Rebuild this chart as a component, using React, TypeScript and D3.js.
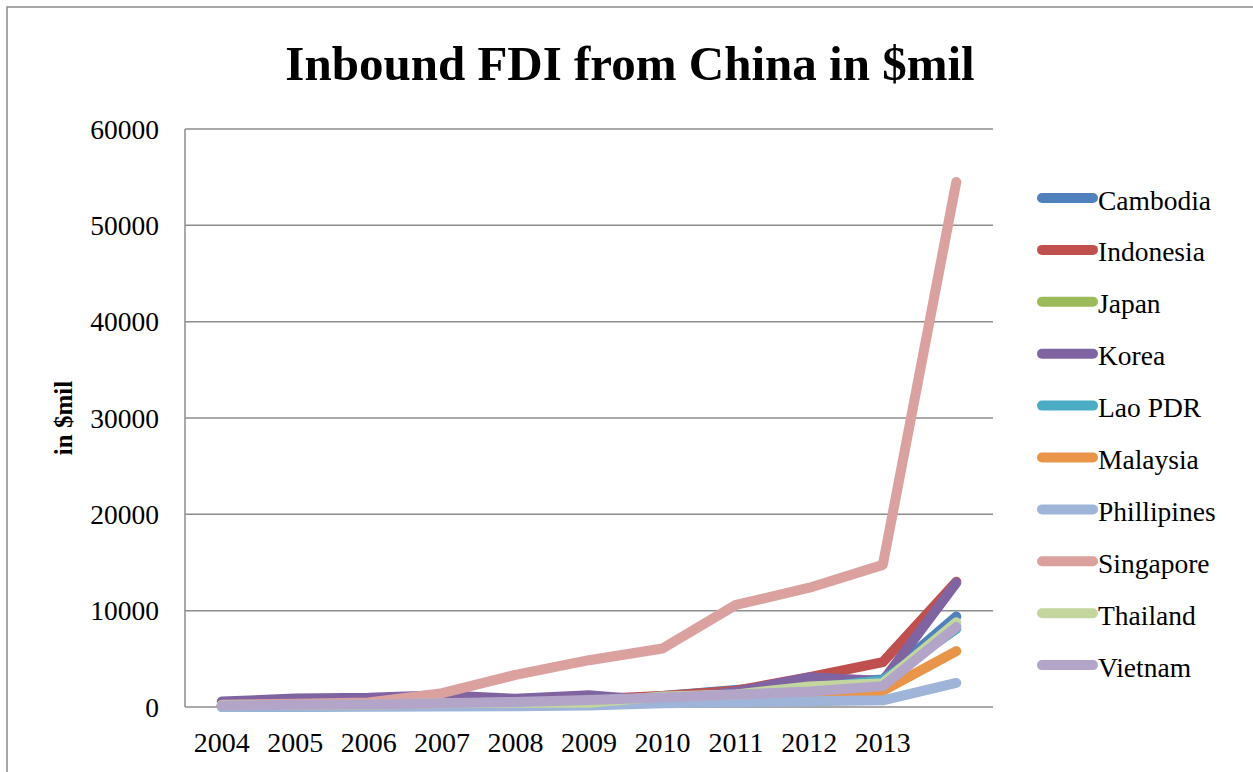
import React from "react";
import * as d3 from "d3";

const categories = ["2004", "2005", "2006", "2007", "2008", "2009", "2010", "2011", "2012", "2013", ""];
const yTicks = [0, 10000, 20000, 30000, 40000, 50000, 60000];

const cambodia = [90, 77, 104, 168, 391, 633, 1130, 1757, 2318, 2849, 9400];
const indonesia = [122, 141, 226, 679, 543, 799, 1150, 1688, 3098, 4657, 13000];
const japan = [152, 151, 224, 300, 310, 400, 1000, 1300, 2000, 2400, 8400];
const korea = [563, 884, 949, 1214, 851, 1218, 601, 1576, 3082, 2696, 12900];
const lao = [15, 31, 96, 302, 305, 536, 846, 1276, 1928, 2771, 8100];
const malaysia = [123, 187, 197, 275, 361, 480, 709, 798, 1026, 1668, 5800];
const phillipines = [10, 19, 22, 43, 87, 143, 387, 494, 593, 692, 2500];
const singapore = [233, 325, 468, 1444, 3335, 4857, 6069, 10603, 12383, 14751, 54500];
const thailand = [182, 219, 233, 379, 437, 448, 1080, 1307, 2127, 2472, 8800];
const vietnam = [160, 229, 253, 397, 522, 729, 987, 1291, 1604, 2167, 8300];

const seriesNames = ["Cambodia", "Indonesia", "Japan", "Korea", "Lao PDR", "Malaysia", "Phillipines", "Singapore", "Thailand", "Vietnam"];
const seriesValues = [cambodia, indonesia, japan, korea, lao, malaysia, phillipines, singapore, thailand, vietnam];
const seriesColors = ["#4F81BD", "#C0504D", "#9BBB59", "#8064A2", "#4BACC6", "#E8954A", "#9EB4D8", "#DAA19E", "#C3D6A0", "#B2A5C8"];

const W = 1253;
const H = 772;
const plotLeft = 185;
const plotRight = 993;
const plotTop = 129;
const plotBottom = 707;

export default function App() {
  const x = d3.scaleBand<string>().domain(categories.map((c, i) => String(i))).range([plotLeft, plotRight]);
  const cx = (i: number) => (x(String(i)) as number) + x.bandwidth() / 2;
  const y = d3.scaleLinear().domain([0, 60000]).range([plotBottom, plotTop]);
  const line = d3
    .line<number>()
    .x((_, i) => cx(i))
    .y((d) => y(d));

  const font = "'Liberation Serif', 'Times New Roman', serif";

  return (
    <svg
      width={W}
      height={H}
      style={{ position: "absolute", left: 0, top: 0, background: "#fff" }}
      fontFamily={font}
    >
      <rect x={7} y={7} width={W + 20} height={H + 20} fill="#fff" stroke="#8a8a8a" strokeWidth={1.5} />
      <text x={630} y={80} textAnchor="middle" fontWeight="bold" fontSize={49} fill="#000">
        Inbound FDI from China in $mil
      </text>
      {yTicks.map((t) => (
        <line key={t} x1={plotLeft} x2={plotRight} y1={y(t)} y2={y(t)} stroke="#8c8c8c" strokeWidth={1.5} />
      ))}
      <line x1={plotLeft} x2={plotLeft} y1={plotTop} y2={plotBottom} stroke="#8c8c8c" strokeWidth={1.5} />
      {yTicks.map((t) => (
        <text key={"l" + t} x={159} y={y(t) + 9.5} textAnchor="end" fontSize={27.5} fill="#000">
          {t}
        </text>
      ))}
      {categories.map((c, i) => (
        <text key={"c" + i} x={cx(i)} y={752} textAnchor="middle" fontSize={28} fill="#000">
          {c}
        </text>
      ))}
      <text
        transform={`translate(72,418) rotate(-90)`}
        textAnchor="middle"
        fontWeight="bold"
        fontSize={25}
        fill="#000"
      >
        in $mil
      </text>
      {seriesValues.map((vals, k) => (
        <path
          key={seriesNames[k]}
          d={line(vals) || ""}
          fill="none"
          stroke={seriesColors[k]}
          strokeWidth={10}
          strokeLinecap="round"
          strokeLinejoin="round"
        />
      ))}
      {seriesNames.map((n, k) => {
        const ly = 198 + k * 51.9;
        return (
          <g key={"lg" + n}>
            <line x1={1042} x2={1093} y1={ly} y2={ly} stroke={seriesColors[k]} strokeWidth={10} strokeLinecap="round" />
            <text x={1098} y={ly + 11.5} fontSize={27.5} fill="#000">
              {n}
            </text>
          </g>
        );
      })}
    </svg>
  );
}
